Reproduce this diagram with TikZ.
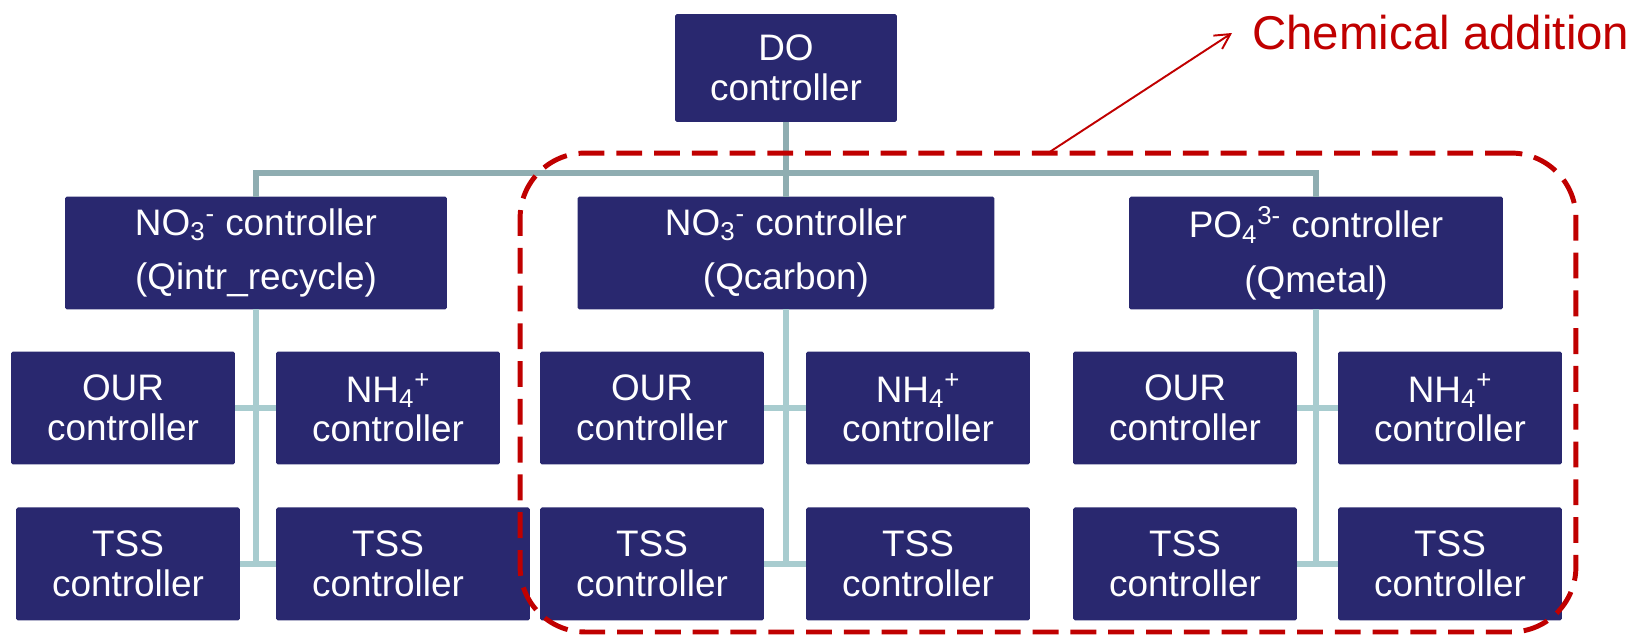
\documentclass[tikz,border=0pt]{standalone}
\usepackage{fontspec}
\setmainfont{Liberation Sans}
\usepackage{tikz}
\usetikzlibrary{positioning,arrows.meta}
\definecolor{cmarino}{HTML}{29286F}
\definecolor{cgrisazul}{HTML}{8FADB1}
\definecolor{cceleste}{HTML}{A8CCCF}
\definecolor{crojo}{HTML}{C00000}
\tikzset{
  caja/.style={rectangle, rounded corners=1.1pt, fill=cmarino, text=white,
    align=center, inner sep=0pt, outer sep=0pt, minimum width=4.48cm,
    minimum height=2.26cm, font=\fontsize{21}{22.5}\selectfont},
  cajam/.style={caja, font=\fontsize{21}{31}\selectfont},
  tronco/.style={draw=cgrisazul, line width=3pt},
  rama/.style={draw=cceleste, line width=3pt},
  zona/.style={draw=crojo, line width=2.8pt, dash pattern=on 14.7pt off 6.8pt,
    rounded corners=1.3cm, inner sep=0pt, outer sep=0pt,
    minimum width=21.12cm, minimum height=9.58cm},
  flecha/.style={-{Straight Barb[length=3mm,width=3.2mm]}, draw=crojo, line width=1.1pt},
  etq/.style={font=\fontsize{27}{32}\selectfont, text=crojo, inner xsep=0.4cm, inner ysep=0pt},
}

\begin{document}
\begin{tikzpicture}[x=0.02cm, y=-0.02cm, node distance=0.86cm]
  \useasboundingbox (0,0) rectangle (1636,643);
  % nivel superior
  \node[caja, minimum width=4.44cm, minimum height=2.16cm] (do) at (786,68) {DO\\controller};
  \node[cajam, minimum width=7.64cm] (no3l) at (256,253) {NO\textsubscript{3}\textsuperscript{-} controller\\(Qintr\_recycle)};
  \node[cajam, minimum width=8.34cm] (no3m) at (786,253) {NO\textsubscript{3}\textsuperscript{-} controller\\(Qcarbon)};
  \node[cajam, minimum width=7.48cm] (po4) at (1316,253) {PO\textsubscript{4}\textsuperscript{3-} controller\\(Qmetal)};
  % fila OUR / NH4
  \node[caja] (ourL) at (123,408) {OUR\\controller};
  \node[caja] (nh4L) at (388,408) {NH\textsubscript{4}\textsuperscript{+}\\controller};
  \node[caja] (ourM) at (652,408) {OUR\\controller};
  \node[caja] (nh4M) at (918,408) {NH\textsubscript{4}\textsuperscript{+}\\controller};
  \node[caja] (ourR) at (1185,408) {OUR\\controller};
  \node[caja] (nh4R) at (1450,408) {NH\textsubscript{4}\textsuperscript{+}\\controller};
  % fila TSS
  \node[caja, below=of ourL, xshift=0.1cm] (tssL) {TSS\\controller};
  \node[caja, below=of nh4L.south west, anchor=north west, minimum width=5.08cm,
    text width=5.08cm, align=left] (tssL2)
    {\makebox[4.48cm]{TSS}\\\makebox[4.48cm]{controller}};
  \node[caja, below=of ourM] (tssM) {TSS\\controller};
  \node[caja, below=of nh4M] (tssM2) {TSS\\controller};
  \node[caja, below=of ourR] (tssR) {TSS\\controller};
  \node[caja, below=of nh4R] (tssR2) {TSS\\controller};

  % lineas del arbol
  \coordinate (barra) at (786,173);
  \draw[tronco] (do) -- (no3m);
  \draw[tronco] (no3l.north) |- (barra) -| (po4.north);
  \foreach \p/\a/\b/\c/\d in {no3l/ourL/nh4L/tssL/tssL2, no3m/ourM/nh4M/tssM/tssM2,
      po4/ourR/nh4R/tssR/tssR2}{
    \draw[rama] (\p.south) -- (\p.south |- \c.east);
    \draw[rama] (\a.east) -- (\b.west);
    \draw[rama] (\c.east) -- (\d.west);
  }

  % adicion quimica
  \node[zona] (zona) at (1048,392.5) {};
  \node[etq, anchor=west] (quim) at (1232,33) {Chemical addition};
  \draw[flecha] (zona.north) -- (quim.west);
\end{tikzpicture}
\end{document}
